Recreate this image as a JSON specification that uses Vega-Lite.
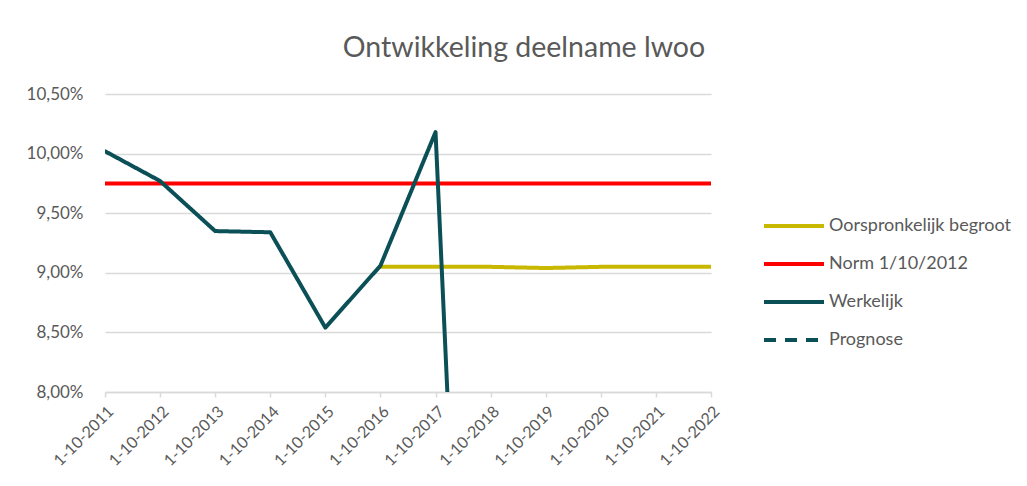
{
  "$schema": "https://vega.github.io/schema/vega-lite/v6.json",
  "width": 606,
  "height": 298,
  "autosize": {"type": "none"},
  "padding": {"left": 105, "top": 94, "right": 316, "bottom": 94},
  "background": "white",
  "title": {
    "text": "Ontwikkeling deelname lwoo",
    "fontSize": 28.5,
    "font": "Lato",
    "fontWeight": "normal",
    "color": "#595959",
    "anchor": "middle",
    "dx": 116,
    "offset": 23
  },
  "data": {
    "values": [
      {"datum": "1-10-2016", "serie": "Oorspronkelijk begroot", "waarde": 0.0905},
      {"datum": "1-10-2017", "serie": "Oorspronkelijk begroot", "waarde": 0.0905},
      {"datum": "1-10-2018", "serie": "Oorspronkelijk begroot", "waarde": 0.0905},
      {"datum": "1-10-2019", "serie": "Oorspronkelijk begroot", "waarde": 0.0904},
      {"datum": "1-10-2020", "serie": "Oorspronkelijk begroot", "waarde": 0.0905},
      {"datum": "1-10-2021", "serie": "Oorspronkelijk begroot", "waarde": 0.0905},
      {"datum": "1-10-2022", "serie": "Oorspronkelijk begroot", "waarde": 0.0905},
      {"datum": "1-10-2011", "serie": "Norm 1/10/2012", "waarde": 0.0975},
      {"datum": "1-10-2012", "serie": "Norm 1/10/2012", "waarde": 0.0975},
      {"datum": "1-10-2013", "serie": "Norm 1/10/2012", "waarde": 0.0975},
      {"datum": "1-10-2014", "serie": "Norm 1/10/2012", "waarde": 0.0975},
      {"datum": "1-10-2015", "serie": "Norm 1/10/2012", "waarde": 0.0975},
      {"datum": "1-10-2016", "serie": "Norm 1/10/2012", "waarde": 0.0975},
      {"datum": "1-10-2017", "serie": "Norm 1/10/2012", "waarde": 0.0975},
      {"datum": "1-10-2018", "serie": "Norm 1/10/2012", "waarde": 0.0975},
      {"datum": "1-10-2019", "serie": "Norm 1/10/2012", "waarde": 0.0975},
      {"datum": "1-10-2020", "serie": "Norm 1/10/2012", "waarde": 0.0975},
      {"datum": "1-10-2021", "serie": "Norm 1/10/2012", "waarde": 0.0975},
      {"datum": "1-10-2022", "serie": "Norm 1/10/2012", "waarde": 0.0975},
      {"datum": "1-10-2011", "serie": "Werkelijk", "waarde": 0.1002},
      {"datum": "1-10-2012", "serie": "Werkelijk", "waarde": 0.0977},
      {"datum": "1-10-2013", "serie": "Werkelijk", "waarde": 0.0935},
      {"datum": "1-10-2014", "serie": "Werkelijk", "waarde": 0.0934},
      {"datum": "1-10-2015", "serie": "Werkelijk", "waarde": 0.0854},
      {"datum": "1-10-2016", "serie": "Werkelijk", "waarde": 0.0906},
      {"datum": "1-10-2017", "serie": "Werkelijk", "waarde": 0.1018},
      {"datum": "1-10-2018", "serie": "Werkelijk", "waarde": 0.0}
    ]
  },
  "mark": {"type": "line", "strokeWidth": 4, "clip": true, "strokeCap": "round", "strokeJoin": "round"},
  "encoding": {
    "x": {
      "field": "datum",
      "type": "ordinal",
      "sort": ["1-10-2011","1-10-2012","1-10-2013","1-10-2014","1-10-2015","1-10-2016","1-10-2017","1-10-2018","1-10-2019","1-10-2020","1-10-2021","1-10-2022"],
      "scale": {"type": "point", "padding": 0},
      "axis": {
        "title": null,
        "labelAngle": -45,
        "labelFont": "Lato",
        "labelFontSize": 16,
        "labelColor": "#595959",
        "labelPadding": 6,
        "domainColor": "#d9d9d9",
        "domainWidth": 1.5,
        "tickColor": "#d9d9d9",
        "tickSize": 5,
        "tickWidth": 1.5,
        "grid": false
      }
    },
    "y": {
      "field": "waarde",
      "type": "quantitative",
      "scale": {"domain": [0.08, 0.105], "nice": false, "zero": false},
      "axis": {
        "title": null,
        "values": [0.08, 0.085, 0.09, 0.095, 0.1, 0.105],
        "labelExpr": "replace(format(datum.value, '.2%'), '.', ',')",
        "labelFont": "Lato",
        "labelFontSize": 17,
        "labelColor": "#595959",
        "labelPadding": 22,
        "domain": false,
        "ticks": false,
        "grid": true,
        "gridColor": "#d9d9d9",
        "gridWidth": 1.5
      }
    },
    "color": {
      "field": "serie",
      "type": "nominal",
      "scale": {
        "domain": ["Oorspronkelijk begroot", "Norm 1/10/2012", "Werkelijk", "Prognose"],
        "range": ["#c9b800", "#ff0000", "#0b4f57", "#0b4f57"]
      },
      "legend": {
        "title": null,
        "orient": "none",
        "legendX": 657,
        "legendY": 115,
        "symbolType": "M-1,0L3,0",
        "symbolSize": 900,
        "symbolStrokeWidth": 4,
        "labelFont": "Lato",
        "labelFontSize": 18,
        "labelColor": "#595959",
        "labelOffset": 33,
        "labelLimit": 400,
        "rowPadding": 12
      }
    },
    "strokeDash": {
      "field": "serie",
      "type": "nominal",
      "scale": {
        "domain": ["Oorspronkelijk begroot", "Norm 1/10/2012", "Werkelijk", "Prognose"],
        "range": [[1, 0], [1, 0], [1, 0], [12, 9]]
      },
      "legend": null
    }
  },
  "config": {"view": {"stroke": null}}
}
